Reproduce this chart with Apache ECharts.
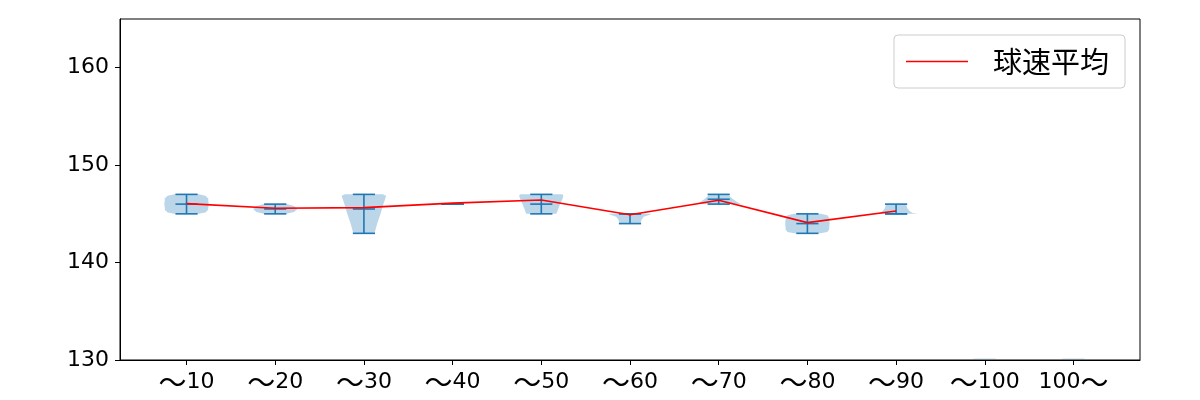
<!DOCTYPE html>
<html><head><meta charset="utf-8">
<script src="https://cdn.jsdelivr.net/npm/echarts@6/dist/echarts.min.js"></script>
<style>html,body{margin:0;padding:0;background:#fff}#c{width:1200px;height:400px}</style>
</head><body><div id="c"></div>
<script>
const categories = ['～10','～20','～30','～40','～50','～60','～70','～80','～90','～100','100～'];
const vMin    = [145, 145, 143, 146, 145, 144, 146, 143, 145, null, null];
const vMax    = [147, 146, 147, 146, 147, 145, 147, 145, 146, null, null];
const vMedian = [146, 145.5, 145.5, 146, 146, 145, 146.5, 144, 145, null, null];
const means   = [146.05, 145.57, 145.64, 146.1, 146.42, 144.9, 146.4, 144.1, 145.3, null, null];
const emptyBase = [null, null, null, null, null, null, null, null, null, 130, 130];
const profiles = [
  [[145,0.55],[145.15,0.85],[145.4,0.97],[146,1.0],[146.6,0.97],[146.85,0.85],[147,0.55]],
  [[145,0.5],[145.2,0.85],[145.5,1.0],[145.8,0.85],[146,0.5]],
  [[143,0.48],[144,0.6],[145,0.75],[146,0.88],[146.6,0.97],[146.85,1.0],[147,0.85]],
  [],
  [[145,0.68],[145.5,0.76],[146,0.85],[146.5,0.95],[146.85,1.0],[147,0.95]],
  [[144,0.48],[144.4,0.52],[144.7,0.62],[144.9,0.88],[145,1.0]],
  [[146,1.0],[146.2,0.85],[146.5,0.65],[146.8,0.5],[147,0.45]],
  [[143,0.6],[143.15,0.9],[143.4,0.98],[144,1.0],[144.6,0.98],[144.85,0.9],[145,0.6]],
  [[145,1.0],[145.1,0.75],[145.3,0.6],[145.6,0.5],[146,0.45]],
  [],
  []
];
const yTicks = [130, 140, 150, 160];

const HALF = 0.25, BAR = 0.125;
const BLUE = '#1f77b4', FILL = 'rgba(31,119,180,0.3)';

function renderViolin(params, api) {
  const i = api.value(0);
  const children = [];
  const prof = profiles[i];
  if (prof.length) {
    const right = prof.map(p => api.coord([i + HALF * p[1], p[0]]));
    const left = prof.slice().reverse().map(p => api.coord([i - HALF * p[1], p[0]]));
    children.push({type: 'polygon', shape: {points: right.concat(left)}, style: {fill: FILL, stroke: null}});
  }
  if (emptyBase[i] != null) {
    const a = api.coord([i - BAR, emptyBase[i]]), b = api.coord([i + BAR, emptyBase[i]]);
    children.push({type: 'line', shape: {x1: a[0], y1: a[1] - 1, x2: b[0], y2: b[1] - 1}, style: {stroke: 'rgba(31,119,180,0.25)', lineWidth: 1}});
  }
  if (vMin[i] != null) {
    const ls = {stroke: BLUE, lineWidth: 1.6};
    const hl = (v) => { const a = api.coord([i - BAR, v]), b = api.coord([i + BAR, v]);
      children.push({type: 'line', shape: {x1: a[0], y1: a[1], x2: b[0], y2: b[1]}, style: ls}); };
    hl(vMax[i]); hl(vMin[i]); hl(vMedian[i]);
    const t = api.coord([i, vMax[i]]), bt = api.coord([i, vMin[i]]);
    children.push({type: 'line', shape: {x1: t[0], y1: t[1], x2: bt[0], y2: bt[1]}, style: ls});
  }
  return {type: 'group', children};
}

const chart = echarts.init(document.getElementById('c'), null, {renderer: 'canvas'});
const CJK = '"Noto Sans CJK JP", sans-serif';
const NUM = '"DejaVu Sans", sans-serif';
function richLabel(s) {
  return s.replace(/～/g, '\u0001').replace(/\d+/g, m => '{n|' + m + '}').replace(/\u0001/g, '{t|～}');
}
chart.setOption({
  animation: false,
  textStyle: {fontFamily: CJK},
  grid: {left: 120, right: 60, top: 19, bottom: 40, show: true, borderColor: '#000', borderWidth: 1, backgroundColor: 'transparent'},
  xAxis: {
    type: 'value', min: -0.75, max: 10.75,
    splitLine: {show: false},
    axisLine: {show: true, onZero: false, lineStyle: {color: '#000', width: 1}},
    axisTick: {show: true, length: 5, lineStyle: {color: '#000'}, customValues: categories.map((c, i) => i)},
    axisLabel: {color: '#000', margin: 9,
      customValues: categories.map((c, i) => i),
      formatter: v => richLabel(categories[Math.round(v)] || ''),
      rich: {
        n: {fontFamily: NUM, fontSize: 22, color: '#000', lineHeight: 26, verticalAlign: 'middle'},
        t: {fontFamily: CJK, fontSize: 28, color: '#000', lineHeight: 26, verticalAlign: 'middle'}
      }}
  },
  yAxis: {
    type: 'value', min: 130, max: 165, interval: 10,
    splitLine: {show: false},
    axisLine: {show: true, onZero: false, lineStyle: {color: '#000', width: 1}},
    axisTick: {show: true, length: 5, lineStyle: {color: '#000'}, customValues: yTicks},
    axisLabel: {color: '#000', fontSize: 22, margin: 11, fontFamily: NUM, customValues: yTicks}
  },
  legend: {
    right: 75, top: 35, orient: 'vertical',
    padding: [12, 16, 12, 12],
    backgroundColor: '#fff', borderColor: '#ccc', borderWidth: 1, borderRadius: 4,
    itemWidth: 62, itemHeight: 29, itemGap: 10,
    textStyle: {fontSize: 29, color: '#000', fontFamily: CJK, padding: [0, 0, 0, 20]},
    data: [{name: '球速平均', icon: 'path://M0,0 L62,0 L62,1.6 L0,1.6 Z', itemStyle: {color: '#ff0000'}}]
  },
  series: [
    {type: 'custom', name: 'violin', renderItem: renderViolin, z: 2,
     data: categories.map((c, i) => [i]), encode: {x: 0}, silent: true},
    {type: 'line', name: '球速平均', z: 5, symbol: 'none',
     lineStyle: {color: '#ff0000', width: 1.6}, itemStyle: {color: '#ff0000'},
     data: means.map((m, i) => [i, m]).filter(d => d[1] != null)}
  ]
});
</script></body></html>
